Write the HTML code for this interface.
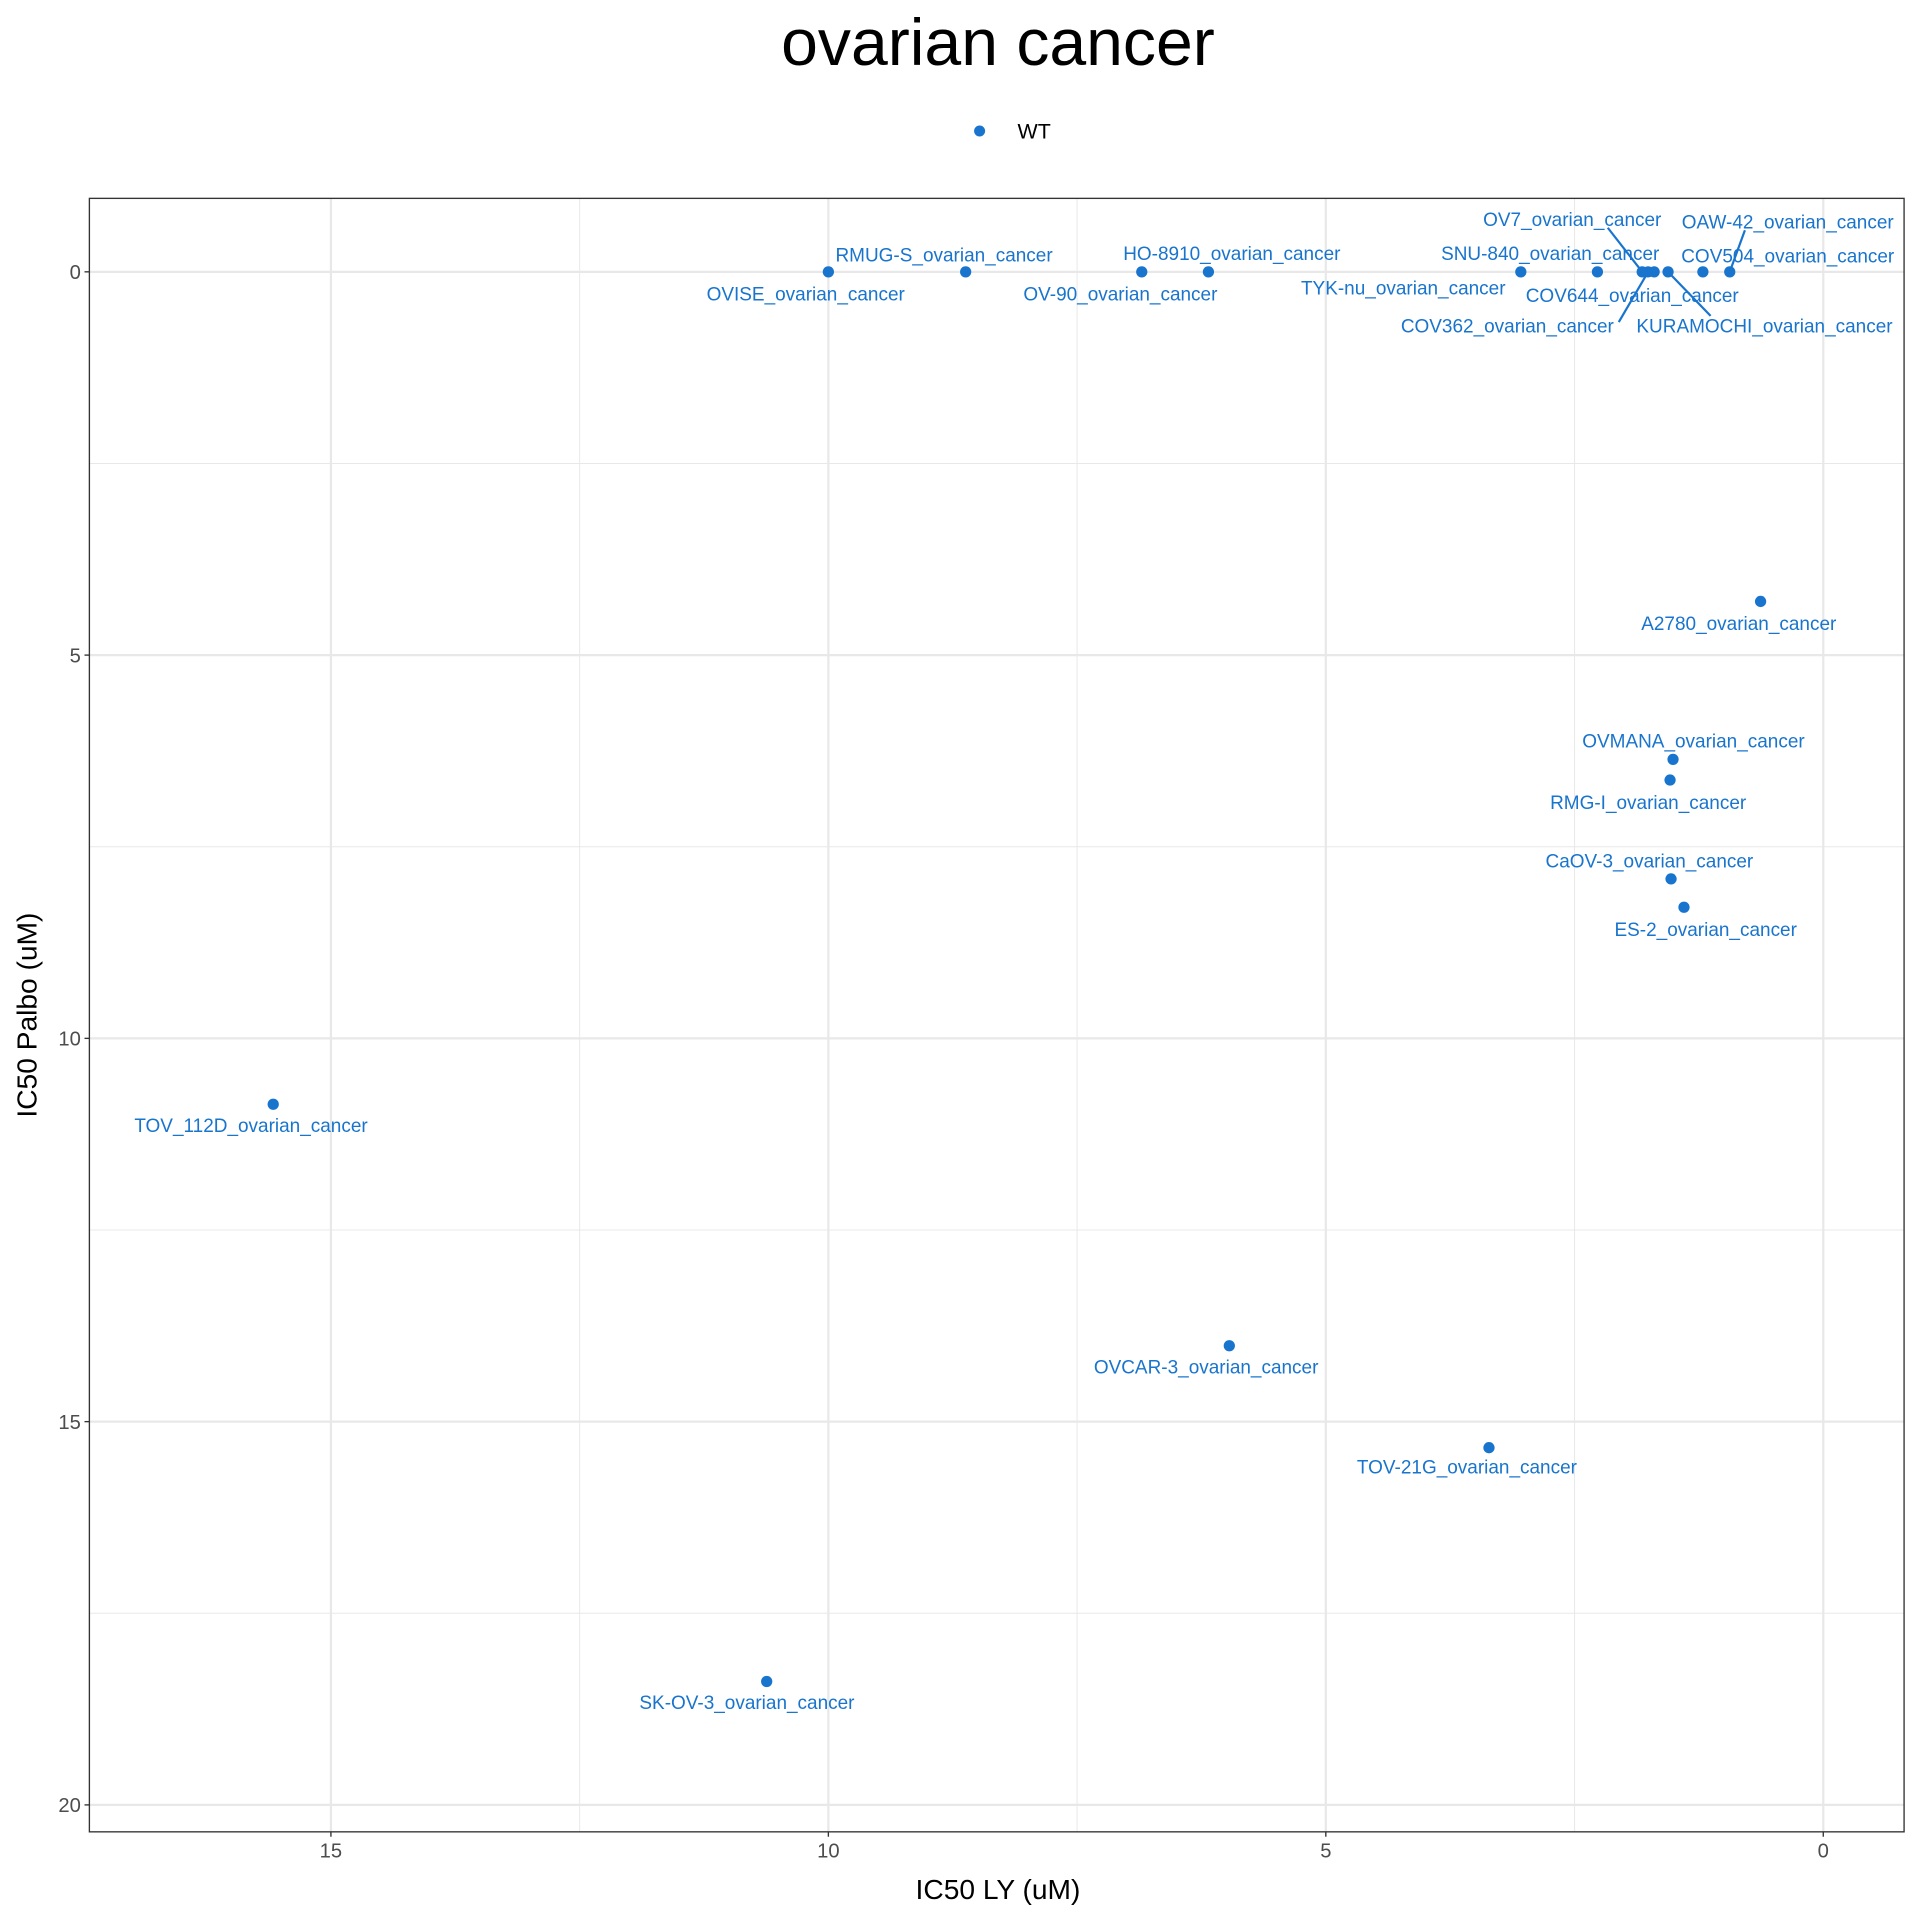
<!DOCTYPE html>
<html><head><meta charset="utf-8"><style>html,body{margin:0;padding:0;background:#fff}svg{display:block}text{font-family:"Liberation Sans",sans-serif}</style></head>
<body>
<svg id="chart" width="1920" height="1920" viewBox="0 0 1568 1568">
<text x="815" y="53" font-size="54" text-anchor="middle" fill="#000">ovarian cancer</text>
<g>
<circle cx="800" cy="107" r="4.5" fill="#1874CD"/>
<text x="831" y="113" font-size="17.5" fill="#000">WT</text>
</g>
<g id="grid"></g>
<g id="marks"></g>
<rect x="73" y="162" width="1482" height="1334" fill="none" stroke="#333" stroke-width="1.1"/>
<g id="axes"></g>
<text x="815" y="1551" font-size="23" text-anchor="middle" fill="#000">IC50 LY (uM)</text>
<text transform="translate(30,829) rotate(-90)" font-size="23" text-anchor="middle" fill="#000">IC50 Palbo (uM)</text>
</svg>
<script>
const names=["OVISE","RMUG-S","HO-8910","OV-90","TYK-nu","SNU-840","OV7","COV362","COV644","KURAMOCHI","COV504","OAW-42","A2780","OVMANA","RMG-I","CaOV-3","ES-2","TOV_112D","OVCAR-3","TOV-21G","SK-OV-3"];
const icLY=[10.0,8.62,6.18,6.85,3.04,2.27,1.82,1.76,1.70,1.56,1.21,0.94,0.63,1.51,1.54,1.53,1.40,15.58,5.97,3.36,10.62];
const icPalbo=[0,0,0,0,0,0,0,0,0,0,0,0,4.30,6.36,6.63,7.92,8.29,10.86,14.01,15.34,18.39];
const xTicks=[0,5,10,15];
const yTicks=[0,5,10,15,20];
const labelPos=[[658,240],[771,208],[1006,207],[915,240],[1146,235],[1266,207],[1284,179],[1231,266],[1333,241],[1441,266],[1460,209],[1460,181],[1420,509],[1383,605],[1346,655],[1347,703],[1393,759],[205,919],[985,1116],[1198,1198],[610,1390]];
const leaders={6:[1313,186],7:[1322,263],9:[1397,258],11:[1425,188]};
const NS="http://www.w3.org/2000/svg";
const L=73,R=1555,T=162,B=1496;
function xs(v){return 1489-v*81.25;}
function ys(v){return 222+v*62.6;}
function mk(t,a,p){const e=document.createElementNS(NS,t);for(const k in a)e.setAttribute(k,a[k]);p.appendChild(e);return e;}
const grid=document.getElementById('grid'),marks=document.getElementById('marks'),axes=document.getElementById('axes');
for(let v=-2.5;v<=20;v+=2.5){const y=ys(v);if(y<T||y>B)continue;const major=v%5===0;
const l=mk('line',{x1:L,x2:R,y1:y,y2:y,stroke:'#e8e8e8','stroke-width':major?1.8:0.8},grid);

}
for(let v=-2.5;v<=17.5;v+=2.5){const x=xs(v);if(x<L||x>R)continue;const major=v%5===0;
const l=mk('line',{x1:x,x2:x,y1:T,y2:B,stroke:'#e8e8e8','stroke-width':major?1.8:0.8},grid);

}
xTicks.forEach(v=>{const x=xs(v);
const t=mk('line',{x1:x,x2:x,y1:B,y2:B+4,stroke:'#333','stroke-width':1.1},axes);


const tx=mk('text',{x:x,y:B+21,'font-size':16.5,'text-anchor':'middle',fill:'#4d4d4d'},axes);tx.textContent=v;

});
yTicks.forEach(v=>{const y=ys(v);
const t=mk('line',{x1:L-4,x2:L,y1:y,y2:y,stroke:'#333','stroke-width':1.1},axes);


const tx=mk('text',{x:L-7,y:y+6,'font-size':16.5,'text-anchor':'end',fill:'#4d4d4d'},axes);tx.textContent=v;

});
names.forEach((n,i)=>{const cx=xs(icLY[i]),cy=ys(icPalbo[i]);
if(leaders[i]){const ln=mk('line',{x1:leaders[i][0],y1:leaders[i][1],x2:cx,y2:cy,stroke:'#1874CD','stroke-width':1.8},marks);

}
const c=mk('circle',{cx:cx,cy:cy,r:4.6,fill:'#1874CD'},marks);


const t=mk('text',{x:labelPos[i][0],y:labelPos[i][1]+5.5,'font-size':15.5,'text-anchor':'middle',fill:'#1874CD'},marks);
t.textContent=n+'_ovarian_cancer';

});
</script>
</body></html>
